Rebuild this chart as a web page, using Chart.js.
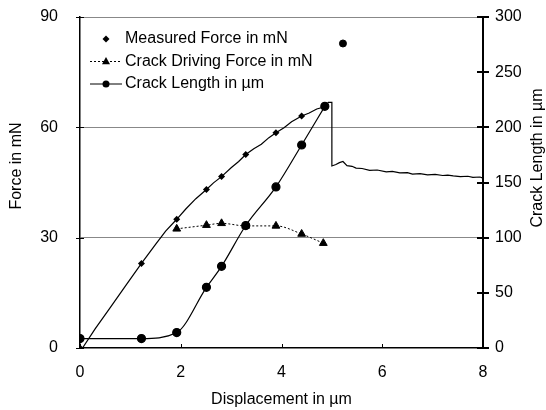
<!DOCTYPE html>
<html><head><meta charset="utf-8">
<script src="https://cdn.jsdelivr.net/npm/chart.js@4.4.1/dist/chart.umd.min.js"></script>
<style>html,body{margin:0;padding:0;background:#fff}#wrap{width:546px;height:410px}</style>
</head><body><div id="wrap"><canvas id="c" width="546" height="410"></canvas></div>
<script>
// Displacement (µm) positions of the markers
const markerX = [0, 1.22, 1.92, 2.51, 2.81, 3.29, 3.89, 4.40, 4.86];
// Measured force markers (mN)
const forceMarkers = [0, 23, 35, 43.1, 46.6, 52.6, 58.5, 63.1, 65.6];
// Measured force trace
const traceX = [0.05, 0.3, 0.6, 0.9, 1.22, 1.5, 1.7, 1.92, 2.1, 2.3, 2.51, 2.65, 2.81, 3.0, 3.15, 3.29, 3.45, 3.6, 3.75, 3.89, 4.05, 4.2, 4.40, 4.55, 4.7, 4.86, 4.93, 5.0, 5.0, 5.08, 5.15, 5.22, 5.3, 5.4, 5.48, 5.6, 5.75, 5.9, 6.08, 6.2, 6.35, 6.5, 6.6, 6.75, 6.9, 7.05, 7.2, 7.3, 7.41, 7.55, 7.7, 7.8, 7.94, 8.0];
const traceY = [0, 5.2, 11, 16.8, 23, 28.2, 31.8, 35, 37.8, 40.6, 43.1, 44.9, 46.6, 49, 50.7, 52.6, 54.2, 55.4, 57.2, 58.5, 59.9, 61.5, 63.1, 63.9, 65, 65.6, 66.8, 66.8, 49.5, 49.9, 50.4, 50.7, 49.6, 49.4, 48.9, 48.8, 48.3, 48.4, 47.9, 48.0, 47.6, 47.7, 47.3, 47.4, 47.1, 47.2, 46.9, 47.0, 46.8, 46.6, 46.7, 46.4, 46.5, 46.2];
// Crack driving force (mN)
const drivingX = [1.92, 2.51, 2.81, 3.29, 3.89, 4.40, 4.83];
const drivingF = [32.4, 33.4, 33.9, 33.2, 33.2, 31.0, 28.5];
// Crack length (µm)
const crackLen = [8.5, 8.5, 14, 55, 74, 111, 146, 184, 219];
const strayX = [5.22];
const strayY = [276];
// Tick labels
const xTicks = [0, 2, 4, 6, 8];
const yLeftTicks = [0, 30, 60, 90];
const yRightTicks = [0, 50, 100, 150, 200, 250, 300];

const FONT = '"Liberation Sans", Arial, sans-serif';
const pts = (xs, ys) => xs.map((x, i) => ({x, y: ys[i]}));

function drawMarker(ctx, style, x, y, r) {
  ctx.save();
  ctx.fillStyle = '#000';
  ctx.beginPath();
  if (style === 'circle') { ctx.arc(x, y, r, 0, Math.PI * 2); }
  else if (style === 'triangle') { ctx.moveTo(x, y - r * 1.1); ctx.lineTo(x + r, y + r * 0.7); ctx.lineTo(x - r, y + r * 0.7); ctx.closePath(); }
  else if (style === 'diamond') { ctx.moveTo(x, y - r); ctx.lineTo(x + r, y); ctx.lineTo(x, y + r); ctx.lineTo(x - r, y); ctx.closePath(); }
  ctx.fill();
  ctx.restore();
}

const decor = {
  id: 'decor',
  afterDraw(chart) {
    const ctx = chart.ctx;
    const a = chart.chartArea;
    const sx = chart.scales.x, yl = chart.scales.y, yr = chart.scales.y2;
    ctx.save();
    ctx.strokeStyle = '#000';
    ctx.lineWidth = 1;
    xTicks.forEach(v => { const p = Math.round(sx.getPixelForValue(v)) + 0.5; ctx.beginPath(); ctx.moveTo(p, a.bottom); ctx.lineTo(p, a.bottom - 4); ctx.stroke(); });
    yLeftTicks.forEach(v => { const p = Math.round(yl.getPixelForValue(v)) + 0.5; ctx.beginPath(); ctx.moveTo(a.left - 4, p); ctx.lineTo(a.left + 4, p); ctx.stroke(); });
    ctx.lineWidth = 2;
    yRightTicks.forEach(v => { const p = Math.round(yr.getPixelForValue(v)); ctx.beginPath(); ctx.moveTo(a.right - 6, p); ctx.lineTo(a.right + 6, p); ctx.stroke(); });
    ctx.fillStyle = '#000';
    ctx.font = '16px ' + FONT;
    ctx.textAlign = 'center'; ctx.textBaseline = 'middle';
    ctx.fillText('Displacement in µm', (a.left + a.right) / 2, 400);
    ctx.save(); ctx.translate(17, 166); ctx.rotate(-Math.PI / 2); ctx.fillText('Force in mN', 0, 0); ctx.restore();
    ctx.save(); ctx.translate(538, 158); ctx.rotate(-Math.PI / 2); ctx.fillText('Crack Length in µm', 0, 0); ctx.restore();
    const ds = chart.data.datasets;
    const rows = [39, 61.5, 84];
    ctx.textAlign = 'left';
    ctx.lineWidth = 1;
    drawMarker(ctx, 'diamond', 106, rows[0], 3.5);
    ctx.fillText(ds[0].label, 125, rows[0]);
    ctx.setLineDash([2, 2]);
    ctx.beginPath(); ctx.moveTo(90, rows[1]); ctx.lineTo(122, rows[1]); ctx.stroke();
    ctx.setLineDash([]);
    drawMarker(ctx, 'triangle', 106, rows[1], 4);
    ctx.fillText(ds[2].label, 125, rows[1]);
    ctx.beginPath(); ctx.moveTo(90, rows[2]); ctx.lineTo(122, rows[2]); ctx.stroke();
    drawMarker(ctx, 'circle', 106, rows[2], 3.5);
    ctx.fillText(ds[3].label, 125, rows[2]);
    ctx.restore();
  }
};

new Chart(document.getElementById('c'), {
  type: 'scatter',
  data: {
    datasets: [
      { label: 'Measured Force in mN', data: pts(markerX, forceMarkers), yAxisID: 'y', showLine: false,
        pointStyle: 'rectRot', pointRadius: 3.5, backgroundColor: '#000', borderColor: '#000', borderWidth: 0, order: 1 },
      { label: 'trace', data: pts(traceX, traceY), yAxisID: 'y', showLine: true, pointRadius: 0,
        borderColor: '#000', borderWidth: 1.2, tension: 0, order: 2 },
      { label: 'Crack Driving Force in mN', data: pts(drivingX, drivingF), yAxisID: 'y', showLine: true,
        borderDash: [2, 2], borderColor: '#000', borderWidth: 1, cubicInterpolationMode: 'monotone',
        pointStyle: 'triangle', pointRadius: 4.5, backgroundColor: '#000', order: 0 },
      { label: 'Crack Length in µm', data: pts(markerX, crackLen), yAxisID: 'y2', showLine: true,
        borderColor: '#000', borderWidth: 1.2, cubicInterpolationMode: 'monotone',
        pointStyle: 'circle', pointRadius: 4, backgroundColor: '#000', order: 0 },
      { label: 'stray', data: pts(strayX, strayY), yAxisID: 'y2', showLine: false,
        pointStyle: 'circle', pointRadius: 3.5, backgroundColor: '#000', borderColor: '#000' }
    ]
  },
  options: {
    responsive: false, animation: false,
    layout: { padding: { top: 17, left: 0, right: 0, bottom: 0 } },
    plugins: { legend: { display: false }, tooltip: { enabled: false } },
    scales: {
      x: { type: 'linear', min: 0, max: 8,
        afterFit: s => { s.height = 62; s.paddingLeft = 0; s.paddingRight = 0; },
        ticks: { stepSize: 2, color: '#000', font: { family: FONT, size: 16 }, padding: 15 },
        grid: { display: false, drawTicks: false },
        border: { color: '#000', width: 1.5 } },
      y: { type: 'linear', position: 'left', min: 0, max: 90,
        afterFit: s => { s.width = 80; s.paddingTop = 0; s.paddingBottom = 0; },
        ticks: { stepSize: 30, color: '#000', font: { family: FONT, size: 16 }, padding: 22 },
        grid: { color: ctx => (ctx.tick && ctx.tick.value > 0) ? '#888' : 'rgba(0,0,0,0)', lineWidth: 1, drawTicks: false },
        border: { color: '#000', width: 1.5 } },
      y2: { type: 'linear', position: 'right', min: 0, max: 300,
        afterFit: s => { s.width = 63; s.paddingTop = 0; s.paddingBottom = 0; },
        ticks: { stepSize: 50, color: '#000', font: { family: FONT, size: 16 }, padding: 12 },
        grid: { display: false, drawTicks: false },
        border: { color: '#000', width: 2 } }
    }
  },
  plugins: [decor]
});
</script></body></html>
